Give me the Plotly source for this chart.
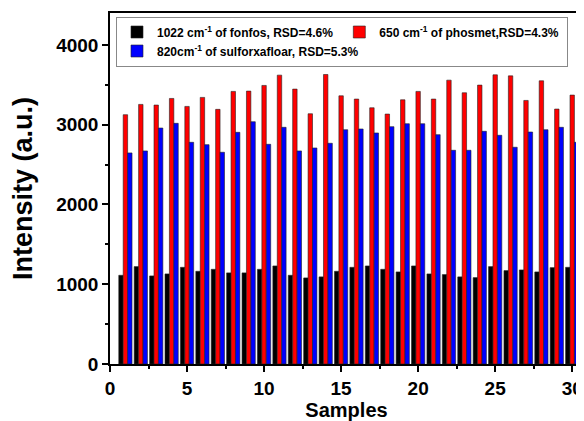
import plotly.graph_objects as go

samples = list(range(1, 31))
fonfos = [1112, 1221, 1104, 1129, 1212, 1162, 1187, 1142, 1142, 1187,
          1229, 1112, 1079, 1092, 1162, 1212, 1229, 1187, 1154, 1229,
          1129, 1121, 1092, 1083, 1221, 1171, 1179, 1154, 1208, 1212]
phosmet = [3125, 3254, 3246, 3329, 3229, 3342, 3192, 3417, 3421, 3492,
           3621, 3446, 3137, 3629, 3362, 3321, 3212, 3133, 3312, 3417,
           3321, 3558, 3400, 3496, 3625, 3612, 3304, 3550, 3196, 3371]
sulfox = [2646, 2671, 2958, 3017, 2779, 2750, 2654, 2904, 3037, 2754,
          2967, 2671, 2708, 2767, 2937, 2946, 2896, 2975, 3012, 3012,
          2875, 2679, 2679, 2917, 2867, 2717, 2908, 2937, 2967, 2779]

names = ["1022 cm<sup>-1</sup> of fonfos, RSD=4.6%",
         "650 cm<sup>-1</sup> of phosmet,RSD=4.3%",
         "820cm<sup>-1</sup> of sulforxafloar, RSD=5.3%"]
colors = ["#000000", "#ff0000", "#0000ff"]
series = [fonfos, phosmet, sulfox]

FONT = "Liberation Sans, Arial, sans-serif"

fig = go.Figure()
for n, c, s in zip(names, colors, series):
    fig.add_trace(go.Bar(x=samples, y=s, name=n, marker=dict(color=c, line=dict(color="#222222", width=0.6))))

axis_common = dict(showline=True, linecolor="black", linewidth=1.5, mirror=True,
                   ticks="outside", ticklen=6, tickwidth=1.5, tickcolor="black",
                   showgrid=False, zeroline=False, automargin=False,
                   tickfont=dict(family=FONT, size=19, color="black", weight="bold"))

fig.update_layout(
    width=576, height=413,
    margin=dict(l=102, r=1, t=5, b=57),
    paper_bgcolor="white", plot_bgcolor="white",
    barmode="group", bargap=0.14, bargroupgap=0,
    font=dict(family=FONT, color="black"),
    showlegend=True,
    legend=dict(orientation="h", x=0.0127, y=0.99, xanchor="left", yanchor="top",
                bgcolor="white", bordercolor="#888888", borderwidth=1,
                entrywidth=0.47, entrywidthmode="fraction",
                font=dict(family=FONT, size=12, color="black", weight="bold"),
                tracegroupgap=0, itemwidth=30),
)
fig.update_xaxes(range=[0, 30.7], tickvals=[0, 5, 10, 15, 20, 25, 30],
                 minor=dict(dtick=2.5, tick0=0, ticks="outside", ticklen=3, tickwidth=1.5, tickcolor="black"),
                 title=dict(text="Samples", standoff=4,
                            font=dict(family=FONT, size=20, color="black", weight="bold")),
                 **axis_common)
fig.update_yaxes(range=[0, 4400], tickvals=[0, 1000, 2000, 3000, 4000],
                 minor=dict(dtick=500, tick0=0, ticks="outside", ticklen=3, tickwidth=1.5, tickcolor="black"),
                 title=dict(text="Intensity (a.u.)", standoff=18,
                            font=dict(family=FONT, size=27, color="black", weight="bold")),
                 **axis_common)

fig.write_html("out.html")
